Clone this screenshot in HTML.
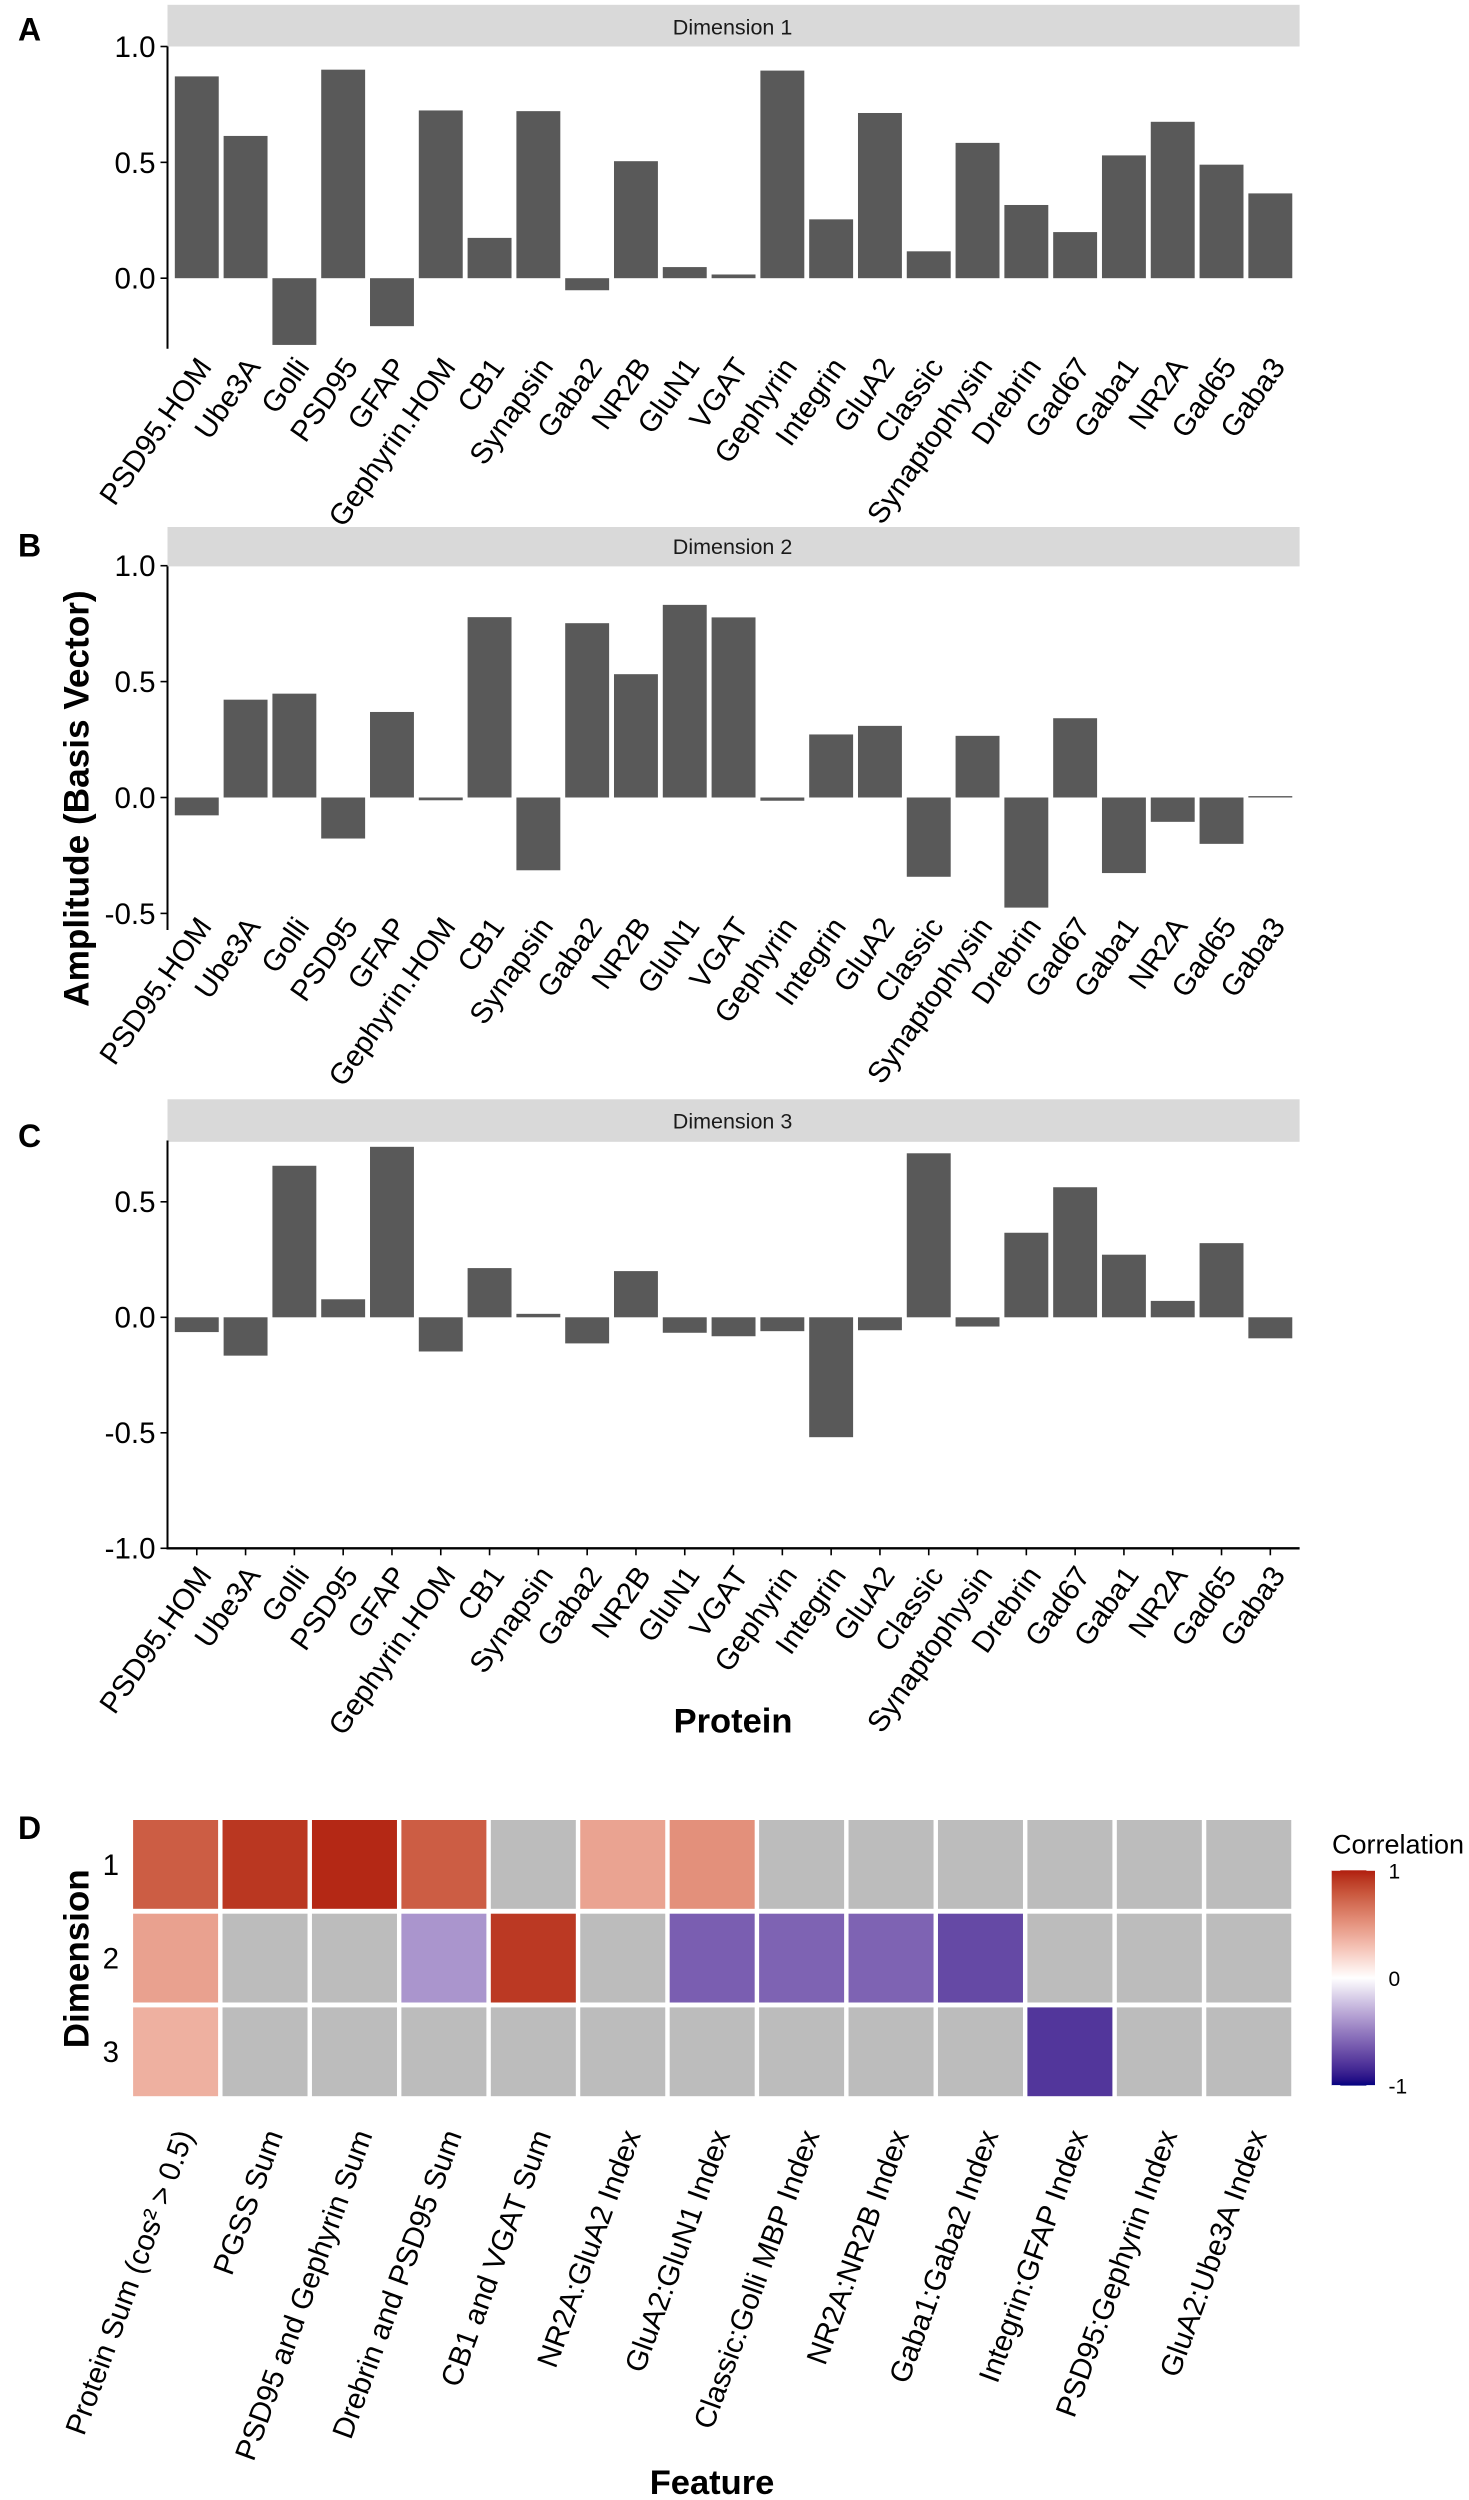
<!DOCTYPE html>
<html lang="en">
<head>
<meta charset="utf-8">
<title>Protein basis vectors and feature correlation</title>
<style>
html,body{margin:0;padding:0;background:#fff;}
svg{display:block;font-family:"Liberation Sans",Arial,sans-serif;}
</style>
</head>
<body>
<svg id="figure" xmlns="http://www.w3.org/2000/svg" width="1469" height="2500" viewBox="0 0 1469 2500">
  <rect x="0" y="0" width="1469" height="2500" fill="#ffffff"/>
  <text x="18" y="40.6" font-size="32" font-weight="bold">A</text>
  <text x="18" y="556.4" font-size="32" font-weight="bold">B</text>
  <text x="18" y="1146.8" font-size="32" font-weight="bold">C</text>
  <text x="18" y="1839" font-size="32" font-weight="bold">D</text>
  <text transform="translate(88.7,798.6) rotate(-90)" text-anchor="middle" font-size="35.2" font-weight="bold">Amplitude (Basis Vector)</text>
  <text x="733" y="1732.7" text-anchor="middle" font-size="34.5" font-weight="bold">Protein</text>
  <text transform="translate(88.7,1958.8) rotate(-90)" text-anchor="middle" font-size="35" font-weight="bold">Dimension</text>
  <text x="712" y="2494" text-anchor="middle" font-size="34.5" font-weight="bold">Feature</text>
  <text x="1332" y="1853.4" font-size="27">Correlation</text>
  <defs>
    <linearGradient id="legend-gradient" x1="0" y1="0" x2="0" y2="1"></linearGradient>
  </defs>
  <g id="bars"></g>
  <g id="heat"></g>
  <g id="legend"></g>
</svg>
<script>
/* ---------- chart data ---------- */
var proteins = ["PSD95.HOM","Ube3A","Golli","PSD95","GFAP","Gephyrin.HOM","CB1","Synapsin","Gaba2","NR2B","GluN1","VGAT","Gephyrin","Integrin","GluA2","Classic","Synaptophysin","Drebrin","Gad67","Gaba1","NR2A","Gad65","Gaba3"];
var dimension1Values = [0.871,0.614,-0.288,0.90,-0.207,0.724,0.174,0.721,-0.052,0.505,0.048,0.016,0.896,0.254,0.713,0.116,0.584,0.316,0.199,0.530,0.675,0.490,0.366];
var dimension2Values = [-0.077,0.422,0.448,-0.177,0.369,-0.012,0.778,-0.314,0.752,0.532,0.831,0.777,-0.014,0.272,0.309,-0.342,0.266,-0.475,0.342,-0.326,-0.105,-0.200,0.006];
var dimension3Values = [-0.064,-0.166,0.656,0.078,0.738,-0.148,0.213,0.015,-0.113,0.200,-0.067,-0.082,-0.060,-0.519,-0.056,0.710,-0.040,0.366,0.563,0.271,0.071,0.321,-0.091];
var dimension1Ticks = [1,0.5,0];
var dimension2Ticks = [1,0.5,0,-0.5];
var dimension3Ticks = [0.5,0,-0.5,-1];

var features = ["Protein Sum (cos\u00B2 > 0.5)","PGSS Sum","PSD95 and Gephyrin Sum","Drebrin and PSD95 Sum","CB1 and VGAT Sum","NR2A:GluA2 Index","GluA2:GluN1 Index","Classic:Golli MBP Index","NR2A:NR2B Index","Gaba1:Gaba2 Index","Integrin:GFAP Index","PSD95:Gephyrin Index","GluA2:Ube3A Index"];
var dimensionLabels = ["1","2","3"];
var correlationDim1 = [0.76,0.92,0.97,0.76,null,0.43,0.52,null,null,null,null,null,null];
var correlationDim2 = [0.44,null,null,-0.40,0.91,null,-0.62,-0.60,-0.60,-0.71,null,null,null];
var correlationDim3 = [0.37,null,null,null,null,null,null,null,null,null,-0.79,null,null];
var legendTicks = [1,0,-1];

/* ---------- helpers ---------- */
var SVGNS = "http://www.w3.org/2000/svg";
function make(tag, attrs, parent, content) {
  var node = document.createElementNS(SVGNS, tag);
  for (var key in attrs) { node.setAttribute(key, attrs[key]); }
  if (content !== undefined) { node.textContent = content; }
  parent.appendChild(node);
  return node;
}
function slug(text) {
  return String(text).toLowerCase().replace(/[^a-z0-9]+/g, "-").replace(/^-|-$/g, "");
}

/* ---------- bar panels ---------- */
var plotLeft = 167.5, plotRight = 1299.6;
var bandStep = (plotRight - plotLeft) / (proteins.length - 1 + 1.2);
function xBand(index) { return plotLeft + bandStep * (0.6 + index); }

function drawPanel(id, title, values, ticks, frame) {
  function yScale(value) { return frame.zero - value * frame.unit; }
  var root = document.getElementById("bars");
  var panel = make("g", {}, root);
  
  

  var strip = make("rect", {x: plotLeft, y: frame.stripTop, width: plotRight - plotLeft, height: frame.stripBottom - frame.stripTop, fill: "#d9d9d9"}, panel);
  
  

  var stripLabel = make("text", {x: (plotLeft + plotRight) / 2 - 1, y: frame.stripBase, "text-anchor": "middle", "font-size": 21.5, fill: "#1a1a1a"}, panel, title);
  
  

  values.forEach(function (value, i) {
    var yA = yScale(value), yB = yScale(0);
    var bar = make("rect", {x: xBand(i) - bandStep * 0.45, y: Math.min(yA, yB), width: bandStep * 0.9, height: Math.abs(yB - yA), fill: "#595959"}, panel);
    
    
  });

  var yAxis = make("line", {x1: plotLeft, x2: plotLeft, y1: frame.top, y2: frame.bottom, stroke: "#000", "stroke-width": 2}, panel);
  
  

  ticks.forEach(function (tick) {
    var y = yScale(tick);
    var mark = make("line", {x1: plotLeft - 7, x2: plotLeft, y1: y, y2: y, stroke: "#000", "stroke-width": 1.6}, panel);
    
    
    var label = make("text", {x: plotLeft - 12, y: y + 10.4, "text-anchor": "end", "font-size": 29.5}, panel, tick.toFixed(1));
    
    
  });

  if (frame.showXAxis) {
    var xAxis = make("line", {x1: plotLeft - 1, x2: plotRight, y1: frame.bottom, y2: frame.bottom, stroke: "#000", "stroke-width": 2.4}, panel);
    
    
  }

  proteins.forEach(function (name, i) {
    if (frame.showXAxis) {
      var tickMark = make("line", {x1: xBand(i), x2: xBand(i), y1: frame.bottom, y2: frame.bottom + 7, stroke: "#000", "stroke-width": 1.6}, panel);
      
      
    }
    var label = make("text", {transform: "translate(" + (xBand(i) + 16) + "," + frame.labelY + ") rotate(-55)", "text-anchor": "end", "font-size": 29.6}, panel, name);
    
    
  });
}

drawPanel("dimension-1", "Dimension 1", dimension1Values, dimension1Ticks,
  {zero: 278.2, unit: 231.7, top: 46.5, bottom: 348.8, labelY: 367, stripTop: 4.8, stripBottom: 46.5, stripBase: 34.4, showXAxis: false});
drawPanel("dimension-2", "Dimension 2", dimension2Values, dimension2Ticks,
  {zero: 797.5, unit: 231.8, top: 566.4, bottom: 930, labelY: 926.6, stripTop: 527, stripBottom: 566.4, stripBase: 553.9, showXAxis: false});
drawPanel("dimension-3", "Dimension 3", dimension3Values, dimension3Ticks,
  {zero: 1317.3, unit: 231, top: 1140.5, bottom: 1548.3, labelY: 1575.5, stripTop: 1099.3, stripBottom: 1141.8, stripBase: 1128.7, showXAxis: true});

/* ---------- colour scale: white midpoint, interpolated in Lab like ggplot ---------- */
function rgbToLab(c) {
  var r = [c[0], c[1], c[2]].map(function (v) { v /= 255; return v > 0.04045 ? Math.pow((v + 0.055) / 1.055, 2.4) : v / 12.92; });
  var x = (0.4124 * r[0] + 0.3576 * r[1] + 0.1805 * r[2]) / 0.95047;
  var y = 0.2126 * r[0] + 0.7152 * r[1] + 0.0722 * r[2];
  var z = (0.0193 * r[0] + 0.1192 * r[1] + 0.9505 * r[2]) / 1.08883;
  var f = function (t) { return t > 0.008856 ? Math.cbrt(t) : 7.787 * t + 16 / 116; };
  return [116 * f(y) - 16, 500 * (f(x) - f(y)), 200 * (f(y) - f(z))];
}
function labToRgb(l) {
  var fy = (l[0] + 16) / 116, fx = l[1] / 500 + fy, fz = fy - l[2] / 200;
  var g = function (t) { return t * t * t > 0.008856 ? t * t * t : (t - 16 / 116) / 7.787; };
  var x = g(fx) * 0.95047, y = g(fy), z = g(fz) * 1.08883;
  var lin = [3.2406 * x - 1.5372 * y - 0.4986 * z, -0.9689 * x + 1.8758 * y + 0.0415 * z, 0.0557 * x - 0.204 * y + 1.057 * z];
  return lin.map(function (v) {
    v = v <= 0.0031308 ? 12.92 * v : 1.055 * Math.pow(Math.max(v, 0), 1 / 2.4) - 0.055;
    return Math.max(0, Math.min(255, Math.round(v * 255)));
  });
}
var labHigh = rgbToLab([176, 30, 14]), labMid = rgbToLab([255, 255, 255]), labLow = rgbToLab([0, 0, 128]);
function fillFor(value) {
  if (value === null) { return "#bcbcbc"; }
  var t = Math.abs(value), end = value >= 0 ? labHigh : labLow;
  var rgb = labToRgb([0, 1, 2].map(function (k) { return labMid[k] + (end[k] - labMid[k]) * t; }));
  return "rgb(" + rgb.join(",") + ")";
}

/* ---------- heatmap ---------- */
var heatFirstX = 175.6, heatStepX = 89.43, heatFirstY = 1864.4, heatStepY = 93.7, tileW = 85, tileH = 88.8;
function xHeat(index) { return heatFirstX + heatStepX * index; }
function yHeat(index) { return heatFirstY + heatStepY * index; }

var heatRoot = document.getElementById("heat");
[correlationDim1, correlationDim2, correlationDim3].forEach(function (row, r) {
  row.forEach(function (value, c) {
    var tile = make("rect", {x: xHeat(c) - tileW / 2, y: yHeat(r) - tileH / 2, width: tileW, height: tileH, fill: fillFor(value)}, heatRoot);
    
    
  });
});
dimensionLabels.forEach(function (name, r) {
  var label = make("text", {x: 119, y: yHeat(r) + 10.4, "text-anchor": "end", "font-size": 29.5}, heatRoot, name);
  
  
});
features.forEach(function (name, c) {
  var label = make("text", {transform: "translate(" + (xHeat(c) + 18.3) + ",2134.6) rotate(-70)", "text-anchor": "end", "font-size": 29.6}, heatRoot, name);
  
  
});

/* ---------- legend ---------- */
var legendTop = 1870.3, legendBottom = 2085.6, legendLeft = 1331.7, legendRight = 1375;
function yLegend(value) { return legendTop + (1 - value) / 2 * (legendBottom - legendTop); }
var gradient = document.getElementById("legend-gradient");
for (var s = 0; s <= 40; s++) {
  make("stop", {offset: (s / 40), "stop-color": fillFor(1 - s / 20)}, gradient);
}
var legendRoot = document.getElementById("legend");
var colorbar = make("rect", {x: legendLeft, y: legendTop, width: legendRight - legendLeft, height: legendBottom - legendTop, fill: "url(#legend-gradient)"}, legendRoot);


legendTicks.forEach(function (tick) {
  var y = yLegend(tick);
  var left = make("line", {x1: legendLeft, x2: legendLeft + 8.6, y1: y, y2: y, stroke: "#fff", "stroke-width": 1}, legendRoot);
  
  
  var right = make("line", {x1: legendRight - 8.6, x2: legendRight, y1: y, y2: y, stroke: "#fff", "stroke-width": 1}, legendRoot);
  
  
  var label = make("text", {x: 1388.5, y: y + 8, "font-size": 21}, legendRoot, String(tick));
  
  
});
</script>
</body>
</html>
